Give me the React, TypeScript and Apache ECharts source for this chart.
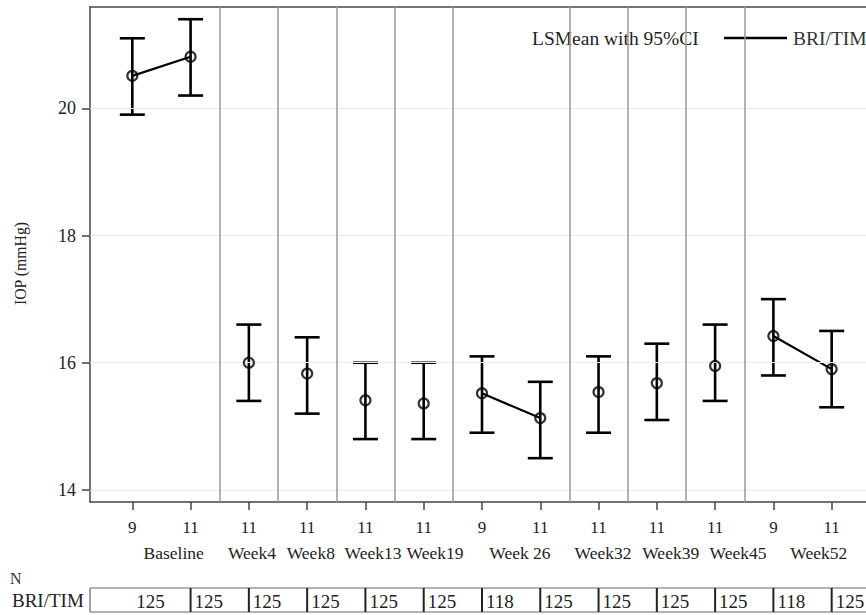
import React, { useEffect, useRef } from "react";
import * as echarts from "echarts";

// ---- data ----
const xPos = [1, 2, 3, 4, 5, 6, 7, 8, 9, 10, 11, 12, 13];
const visitLabels = ["9", "11", "11", "11", "11", "11", "9", "11", "11", "11", "11", "9", "11"];
const means = [20.51, 20.81, 16.0, 15.83, 15.41, 15.36, 15.52, 15.13, 15.54, 15.68, 15.95, 16.42, 15.9];
const lowers = [19.9, 20.2, 15.4, 15.2, 14.8, 14.8, 14.9, 14.5, 14.9, 15.1, 15.4, 15.8, 15.3];
const uppers = [21.1, 21.4, 16.6, 16.4, 16.0, 16.0, 16.1, 15.7, 16.1, 16.3, 16.6, 17.0, 16.5];
const groupIds = [0, 0, 1, 2, 3, 4, 5, 5, 6, 7, 8, 9, 9];
const groupNames = ["Baseline", "Week4", "Week8", "Week13", "Week19", "Week 26", "Week32", "Week39", "Week45", "Week52"];
const nValues = [125, 125, 125, 125, 125, 125, 118, 125, 125, 125, 125, 118, 125];
const yTicks = [14, 16, 18, 20];
const separators = [2.5, 3.5, 4.5, 5.5, 6.5, 8.5, 9.5, 10.5, 11.5];
const seriesName = "BRI/TIM";

// ---- layout ----
const groupLabelPos = [1.71, 3.054, 4.063, 5.13, 6.194, 7.652, 9.076, 10.238, 11.393, 12.778];
const X_MIN = 0.2742;
const X_MAX = 13.589;
const Y_MIN = 13.811;
const Y_MAX = 21.592;
const FONT = "'Times New Roman', 'Liberation Serif', serif";

export default function App() {
  const ref = useRef<HTMLDivElement>(null);
  useEffect(() => {
    if (!ref.current) return;
    const chart = echarts.init(ref.current, null, { renderer: "svg" });

    const lineData: any[] = [];
    xPos.forEach((x, i) => {
      lineData.push([x, means[i]]);
      if (i < xPos.length - 1 && groupIds[i + 1] !== groupIds[i]) lineData.push([x + 0.5, "-"]);
    });

    const nearestIdx = (arr: number[], v: number) => {
      let best = 0;
      arr.forEach((a, i) => {
        if (Math.abs(a - v) < Math.abs(arr[best] - v)) best = i;
      });
      return best;
    };

    const txt = (size: number, color: string) => ({ fontSize: size, fontFamily: FONT, color });

    const option: any = {
      animation: false,
      textStyle: { fontFamily: FONT },
      grid: [
        { left: 90, right: 0, top: 7, height: 495 },
        { left: 90, right: 0, top: 588, height: 24 },
      ],
      xAxis: [
        {
          type: "value",
          gridIndex: 0,
          min: X_MIN,
          max: X_MAX,
          position: "bottom",
          axisLine: { show: true, lineStyle: { color: "#444", width: 1.5 } },
          axisTick: { show: true, length: 8, customValues: xPos, lineStyle: { color: "#444", width: 1.5 } },
          axisLabel: {
            customValues: xPos,
            margin: 17,
            ...txt(17, "#222"),
            formatter: (v: number) => visitLabels[nearestIdx(xPos, v)],
          },
          splitLine: { show: false },
        },
        {
          type: "value",
          gridIndex: 0,
          min: X_MIN,
          max: X_MAX,
          position: "top",
          axisLine: { show: true, onZero: false, lineStyle: { color: "#444", width: 1.5 } },
          axisTick: { show: false },
          axisLabel: { show: false },
          splitLine: { show: false },
        },
        {
          type: "value",
          gridIndex: 0,
          min: X_MIN,
          max: X_MAX,
          position: "bottom",
          axisLine: { show: false },
          axisTick: { show: false },
          axisLabel: {
            customValues: groupLabelPos,
            margin: 42,
            ...txt(17.5, "#222"),
            formatter: (v: number) => groupNames[nearestIdx(groupLabelPos, v)],
          },
          splitLine: { show: false },
        },
        {
          type: "value",
          gridIndex: 1,
          min: X_MIN,
          max: X_MAX,
          show: false,
        },
      ],
      yAxis: [
        {
          type: "value",
          gridIndex: 0,
          min: Y_MIN,
          max: Y_MAX,
          name: "IOP (mmHg)",
          nameLocation: "middle",
          nameRotate: 90,
          nameGap: 62,
          nameTextStyle: { ...txt(15.8, "#222"), padding: [0, 18, 0, 0] },
          axisLine: { show: true, onZero: false, lineStyle: { color: "#444", width: 1.5 } },
          axisTick: { show: true, length: 8, customValues: yTicks, lineStyle: { color: "#444", width: 1.5 } },
          axisLabel: { customValues: yTicks, margin: 14, ...txt(18, "#222") },
          splitLine: { show: false },
        },
        { type: "value", gridIndex: 1, min: 0, max: 1, show: false },
      ],
      series: [
        {
          name: "grid",
          type: "line",
          xAxisIndex: 0,
          yAxisIndex: 0,
          data: [],
          silent: true,
          markLine: {
            silent: true,
            symbol: "none",
            label: { show: false },
            lineStyle: { color: "#ebebeb", width: 1, type: "solid" },
            data: yTicks.map((v) => ({ yAxis: v })),
          },
        },
        {
          name: "sep",
          type: "line",
          xAxisIndex: 0,
          yAxisIndex: 0,
          data: [],
          silent: true,
          markLine: {
            silent: true,
            symbol: "none",
            label: { show: false },
            lineStyle: { color: "#999", width: 1.5, type: "solid" },
            data: separators.map((v) => ({ xAxis: v })),
          },
        },
        {
          name: "ci",
          type: "custom",
          xAxisIndex: 0,
          yAxisIndex: 0,
          data: xPos.map((x, i) => [x, lowers[i], uppers[i]]),
          renderItem: (params: any, api: any) => {
            const x = api.value(0);
            const lo = api.coord([x, api.value(1)]);
            const hi = api.coord([x, api.value(2)]);
            const hw = 12.5;
            const style = { stroke: "#000", lineWidth: 2.6 };
            return {
              type: "group",
              children: [
                { type: "line", shape: { x1: lo[0], y1: lo[1], x2: hi[0], y2: hi[1] }, style },
                { type: "line", shape: { x1: lo[0] - hw, y1: lo[1], x2: lo[0] + hw, y2: lo[1] }, style },
                { type: "line", shape: { x1: hi[0] - hw, y1: hi[1], x2: hi[0] + hw, y2: hi[1] }, style },
              ],
            };
          },
          z: 3,
        },
        {
          name: seriesName,
          type: "line",
          xAxisIndex: 0,
          yAxisIndex: 0,
          data: lineData,
          connectNulls: false,
          showSymbol: false,
          symbol: "none",
          lineStyle: { color: "#000", width: 2.2 },
          z: 4,
        },
        {
          name: "mean",
          type: "scatter",
          xAxisIndex: 0,
          yAxisIndex: 0,
          data: xPos.map((x, i) => [x, means[i]]),
          symbol: "circle",
          symbolSize: 10,
          itemStyle: { color: "rgba(0,0,0,0)", borderColor: "#000", borderWidth: 2.2 },
          z: 5,
        },
        {
          name: "table",
          type: "custom",
          xAxisIndex: 3,
          yAxisIndex: 1,
          data: xPos.map((x, i) => [x, nValues[i], i]),
          renderItem: (params: any, api: any) => {
            const x = api.value(0);
            const idx = api.value(2);
            const cs = params.coordSys;
            const px = api.coord([x, 0.5])[0];
            const nextPx = api.coord([x + 1, 0.5])[0];
            const left = idx === 0 ? cs.x : px;
            const right = idx === xPos.length - 1 ? cs.x + cs.width + 20 : nextPx;
            const top = cs.y;
            const h = cs.height;
            return {
              type: "group",
              children: [
                { type: "line", shape: { x1: left, y1: top, x2: right, y2: top }, style: { stroke: "#666", lineWidth: 1.2 } },
                { type: "line", shape: { x1: left, y1: top + h, x2: right, y2: top + h }, style: { stroke: "#666", lineWidth: 1.2 } },
                {
                  type: "line",
                  shape: { x1: left, y1: top, x2: left, y2: top + h },
                  style: { stroke: idx === 0 ? "#666" : "#222", lineWidth: idx === 0 ? 1.2 : 2 },
                },
                {
                  type: "text",
                  style: {
                    text: String(api.value(1)),
                    x: px + 4,
                    y: top + h / 2 + 1,
                    verticalAlign: "middle",
                    align: "left",
                    fontSize: 19,
                    fontFamily: FONT,
                    fill: "#222",
                  },
                },
              ],
            };
          },
        },
      ],
      graphic: [
        {
          type: "text",
          x: 532,
          y: 38,
          style: { text: "LSMean with 95%CI", fontSize: 19.5, fontFamily: FONT, fill: "#222", verticalAlign: "middle" },
        },
        {
          type: "line",
          shape: { x1: 724, y1: 38, x2: 787, y2: 38 },
          style: { stroke: "#000", lineWidth: 2.6 },
        },
        {
          type: "text",
          x: 793,
          y: 38,
          style: { text: seriesName, fontSize: 19.5, fontFamily: FONT, fill: "#333", verticalAlign: "middle" },
        },
        {
          type: "text",
          x: 10,
          y: 578,
          style: { text: "N", fontSize: 16, fontFamily: FONT, fill: "#333", verticalAlign: "middle" },
        },
        {
          type: "text",
          x: 12,
          y: 600,
          style: { text: seriesName, fontSize: 19, fontFamily: FONT, fill: "#222", verticalAlign: "middle" },
        },
      ],
    };

    chart.setOption(option);
    return () => chart.dispose();
  }, []);

  return (
    <div
      ref={ref}
      style={{ position: "fixed", left: 0, top: 0, width: 866, height: 615, background: "#fff" }}
    />
  );
}
